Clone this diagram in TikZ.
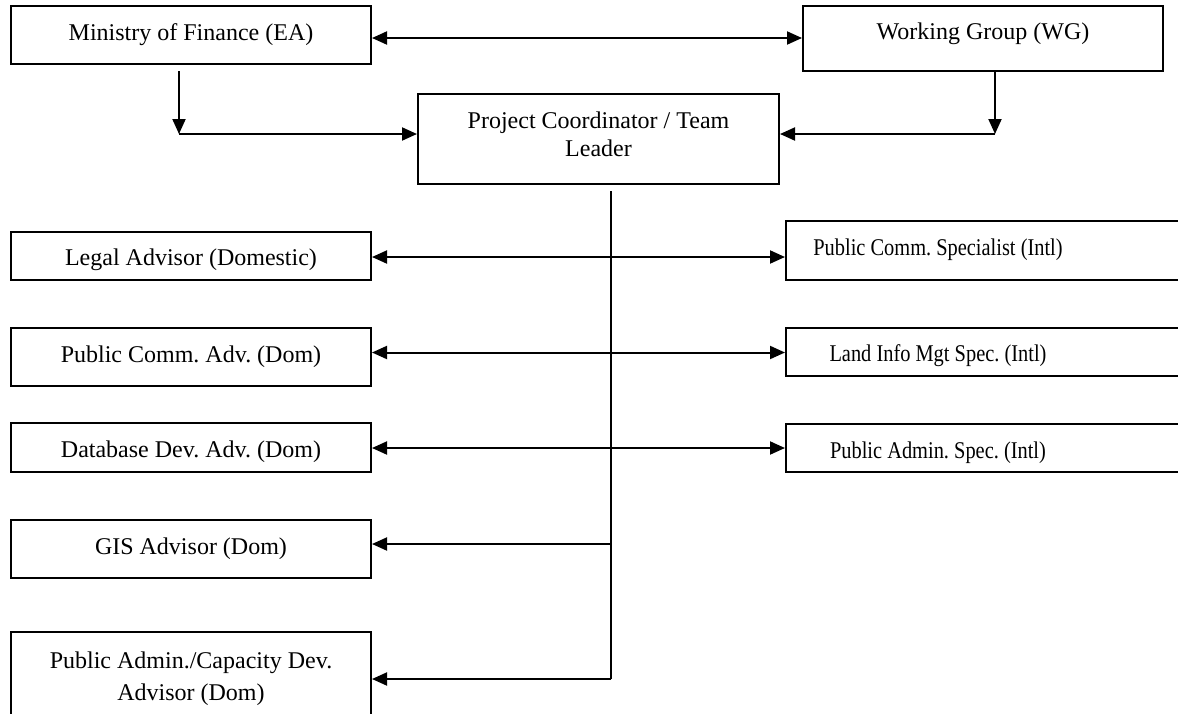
\documentclass[tikz,border=0pt]{standalone}
\usepackage{fontspec}
\setmainfont{Liberation Serif}
\newfontfamily\narrowserif[FakeStretch=0.85]{Liberation Serif}
\usetikzlibrary{arrows.meta}
\begin{document}
\frenchspacing
\begin{tikzpicture}[x=0.5pt,y=-0.5pt,
  box/.style={draw, line width=1pt, minimum width=180pt, inner sep=0pt, align=center,
    font=\fontsize{12}{14}\selectfont},
  rbox/.style={box, minimum width=207pt},
  lab/.style={align=center, font=\fontsize{12}{14}\selectfont},
  rlab/.style={font=\narrowserif\fontsize{12}{14}\selectfont, xshift=-27.5pt},
  conn/.style={line width=1pt},
  arr/.style={conn, -{Triangle[length=7.5pt,width=6.5pt]}},
  arrr/.style={conn, {Triangle[length=7.5pt,width=6.5pt]}-{Triangle[length=7.5pt,width=6.5pt]}}]
\useasboundingbox (0,0) rectangle (1178,713);
\clip (0,0) rectangle (1178,713);

% top row
\node[box, minimum height=29pt] (mof) at (191,35) {Ministry of Finance (EA)};
\node[box, minimum height=32.5pt, label={[lab, yshift=2.5pt]center:Working Group (WG)}] (wg) at (983,38.5) {};
\node[box, minimum width=180.5pt, minimum height=45pt,
  label={[lab, yshift=2.5pt]center:Project Coordinator / Team\\Leader}] (pc) at (598.5,139) {};

% left column
\node[box, minimum height=24pt, label={[lab, yshift=-2pt]center:Legal Advisor (Domestic)}] (legal) at (191,256) {};
\node[box, minimum height=29pt] (pca) at (191,357) {Public Comm. Adv. (Dom)};
\node[box, minimum height=24.5pt, label={[lab, yshift=-2pt]center:Database Dev. Adv. (Dom)}] (dba) at (191,447.5) {};
\node[box, minimum height=29pt] (gis) at (191,549) {GIS Advisor (Dom)};
\node[box, minimum height=44pt,
  label={[lab, yshift=-1.5pt]center:Public Admin./Capacity Dev.\\[2pt]Advisor (Dom)}] (pac) at (191,676) {};

% right column
\node[rbox, minimum height=29.5pt, label={[rlab, yshift=0.5pt]center:Public Comm. Specialist (Intl)}] (pcs) at (993,250.5) {};
\node[rbox, minimum height=24pt, label={[rlab, yshift=-2pt]center:Land Info Mgt Spec. (Intl)}] (lim) at (993,352) {};
\node[rbox, minimum height=24pt, label={[rlab, yshift=-2.5pt]center:Public Admin. Spec. (Intl)}] (pas) at (993,448) {};

% junction coordinates
\coordinate (mj) at (179,134);
\coordinate (wj) at (995,134);
\coordinate (ttop) at (611,190);
\coordinate (tg) at (611,544);
\coordinate (tp) at (611,679);

% top connectors
\draw[arrr] (mof.east |- 0,38) -- (wg.west |- 0,38);
\draw[arr] ([yshift=-3pt]mof.south -| mj) -- (mj);
\draw[arr] (mj) -- (pc.west |- mj);
\draw[arr] (wg.south -| wj) -- (wj);
\draw[arr] (wj) -- (pc.east |- wj);

% trunk
\draw[conn] (pc.south -| ttop) ++(0,6) -- (tp);

% double arrows
\draw[arrr] (legal.east |- 0,257) -- (pcs.west |- 0,257);
\draw[arrr] (pca.east |- 0,352.5) -- (lim.west |- 0,352.5);
\draw[arrr] (dba.east |- 0,448) -- (pas.west |- 0,448);

% single arrows
\draw[arr] (tg) -- (gis.east |- tg);
\draw[arr] (tp) -- (pac.east |- tp);
\end{tikzpicture}
\end{document}
